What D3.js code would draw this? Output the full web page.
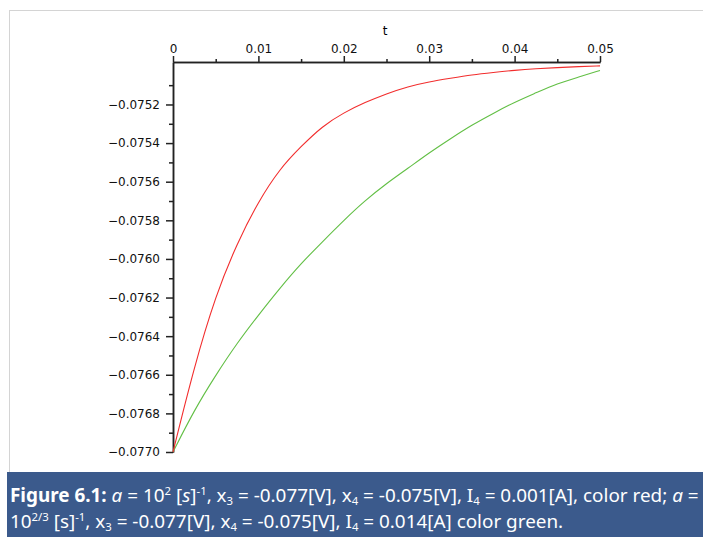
<!DOCTYPE html>
<html lang="en">
<head>
<meta charset="UTF-8">
<title>Figure 6.1</title>
<script src="https://cdn.jsdelivr.net/npm/d3@7"></script>
<style>
    body { margin: 0; background: #fff; }
    .tick text { font-family: "DejaVu Sans", sans-serif; font-size: 12px; fill: #111; }
    .axis path, .axis line { stroke: #222; stroke-width: 1.5px; }
    .caption { font-family: "Noto Sans", "Open Sans", sans-serif; fill: #fff; }
</style>
</head>
<body>
<div id="chart"></div>
<script>
    // data
    var tValues = [0, 0.0025, 0.005, 0.0075, 0.01, 0.0125, 0.015, 0.0175, 0.02, 0.0225, 0.025,
                   0.0275, 0.03, 0.0325, 0.035, 0.0375, 0.04, 0.0425, 0.045, 0.0475, 0.05];
    var redValues = [-0.07700, -0.076555, -0.076188, -0.075919, -0.075702, -0.075533, -0.075417,
                     -0.075312, -0.075242, -0.075189, -0.075144, -0.075107, -0.075082, -0.075064,
                     -0.075046, -0.075034, -0.075023, -0.075015, -0.075009, -0.075004, -0.075000];
    var greenValues = [-0.07700, -0.076782, -0.076602, -0.076436, -0.076291, -0.076152, -0.076023,
                       -0.075911, -0.075800, -0.075697, -0.075609, -0.075531, -0.075450, -0.075377,
                       -0.075306, -0.075246, -0.075188, -0.075140, -0.075091, -0.075058, -0.075024];
    var xTicks = [0, 0.01, 0.02, 0.03, 0.04, 0.05];
    var xMinor = [0.005, 0.015, 0.025, 0.035, 0.045];
    var yTicks = [-0.0752, -0.0754, -0.0756, -0.0758, -0.0760, -0.0762, -0.0764, -0.0766, -0.0768, -0.0770];
    var yMinor = [-0.0751, -0.0753, -0.0755, -0.0757, -0.0759, -0.0761, -0.0763, -0.0765, -0.0767, -0.0769];

    var width = 703, height = 537;
    var svg = d3.select("#chart").append("svg")
        .attr("width", width)
        .attr("height", height);

    // light frame around the plot
    svg.append("rect")
        .attr("x", 9.5).attr("y", 10.5)
        .attr("width", 760).attr("height", 480)
        .attr("fill", "none")
        .attr("stroke", "#d4d4d4");

    var x = d3.scaleLinear().domain([0, 0.05]).range([173, 600]);
    var y = d3.scaleLinear().domain([-0.0770, -0.07498]).range([452, 62]);

    // x axis sits on top of the plot
    svg.append("g")
        .attr("class", "axis")
        .attr("transform", "translate(0," + y.range()[1] + ")")
        .call(d3.axisTop(x).tickValues(xMinor).tickSize(3).tickSizeOuter(0).tickFormat(""));
    svg.append("g")
        .attr("class", "axis")
        .attr("transform", "translate(0," + y.range()[1] + ")")
        .call(d3.axisTop(x).tickValues(xTicks).tickSize(6).tickSizeOuter(0).tickPadding(3)
            .tickFormat(function(d) { return d === 0 ? "0" : d3.format(".2f")(d); }));

    svg.append("g")
        .attr("class", "axis")
        .attr("transform", "translate(" + x(0) + ",0)")
        .call(d3.axisLeft(y).tickValues(yMinor).tickSize(4).tickSizeOuter(0).tickFormat(""));
    svg.append("g")
        .attr("class", "axis")
        .attr("transform", "translate(" + x(0) + ",0)")
        .call(d3.axisLeft(y).tickValues(yTicks).tickSize(7).tickSizeOuter(0).tickPadding(6)
            .tickFormat(d3.format(".4f")));

    svg.append("text")
        .attr("x", 385).attr("y", 35)
        .attr("text-anchor", "middle")
        .style("font-family", "DejaVu Sans, sans-serif")
        .style("font-size", "12px")
        .text("t");

    var line = d3.line()
        .x(function(d, i) { return x(tValues[i]); })
        .y(function(d) { return y(d); })
        .curve(d3.curveBasis);

    svg.append("path")
        .datum(greenValues)
        .attr("fill", "none")
        .attr("stroke", "#62bf45")
        .attr("stroke-width", 1.1)
        .attr("d", line);
    svg.append("path")
        .datum(redValues)
        .attr("fill", "none")
        .attr("stroke", "#f22d2d")
        .attr("stroke-width", 1.1)
        .attr("d", line);

    // caption band
    svg.append("rect")
        .attr("x", 7).attr("y", 472)
        .attr("width", width - 7).attr("height", height - 472)
        .attr("fill", "#3b5a8c");

    var line1 = [
        ["Figure 6.1:", "b"], [" ", ""], ["a", "i"], [" = 10", ""], ["2", "sup"], [" [", ""], ["s", "i"], ["]", ""], ["-1", "sup"],
        [", x", ""], ["3", "sub"], [" = -0.077[V], x", ""], ["4", "sub"], [" = -0.075[V], I", ""], ["4", "sub"],
        [" = 0.001[A], color red; ", ""], ["a", "i"], [" =", ""]
    ];
    var line2 = [
        ["10", ""], ["2/3", "sup"], [" [s]", ""], ["-1", "sup"], [", x", ""], ["3", "sub"], [" = -0.077[V], x", ""], ["4", "sub"],
        [" = -0.075[V], I", ""], ["4", "sub"], [" = 0.014[A] color green.", ""]
    ];

    var fs = 15;
    function drawLine(parts, baseline) {
        var t = svg.append("text")
            .attr("class", "caption")
            .attr("x", 10).attr("y", baseline)
            .style("font-size", fs + "px");
        var shift = 0;
        parts.forEach(function(p) {
            var s = t.append("tspan").text(p[0]);
            var target = p[1] === "sup" ? -0.35 * fs : p[1] === "sub" ? 0.18 * fs : 0;
            s.attr("dy", target - shift);
            shift = target;
            if (p[1] === "sup" || p[1] === "sub") s.style("font-size", (fs * 0.6) + "px");
            if (p[1] === "b") s.style("font-weight", "bold");
            if (p[1] === "i") s.style("font-style", "italic");
        });
        return t;
    }
    var t1 = drawLine(line1, 503);
    var len = t1.node().getComputedTextLength();
    fs = fs * 689 / len;
    t1.remove();
    drawLine(line1, 502);
    drawLine(line2, 528);
</script>
</body>
</html>
